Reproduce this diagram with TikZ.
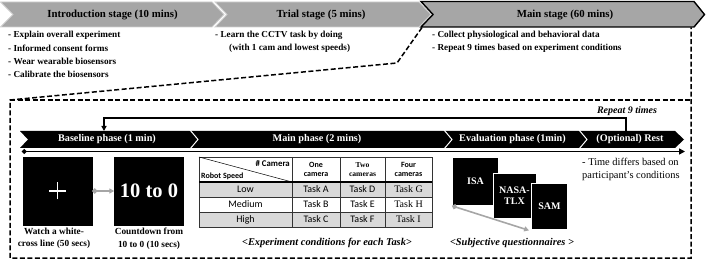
\documentclass[tikz,border=0pt]{standalone}
\usepackage{fontspec}
\setmainfont{Liberation Serif}
\newfontfamily\calfont{Carlito}
\usetikzlibrary{arrows.meta}
\definecolor{chevgray}{HTML}{A6A6A6}
\definecolor{chevedge}{HTML}{D0D0D0}
\definecolor{arrgray}{HTML}{A6A6A6}
\definecolor{rowgray}{HTML}{D9D9D9}
\tikzset{
  topchev/.style={fill=chevgray, draw=chevedge, line width=0.8pt},
  mainchev/.style={fill=chevgray, draw=black, line width=1.4pt},
  toptxt/.style={font=\bfseries\fontsize{10.8}{12}\selectfont, inner sep=0pt},
  bullettxt/.style={font=\bfseries\fontsize{9.2}{10}\selectfont, anchor=west, inner sep=0pt},
  phasechev/.style={fill=black, draw=none},
  sepline/.style={draw=white, line width=1pt},
  phasetxt/.style={font=\bfseries\fontsize{10.2}{11}\selectfont, text=white, inner sep=0pt},
  callout/.style={draw=black, line width=1.5pt, dash pattern=on 5pt off 2.5pt},
  loopline/.style={draw=black, line width=1.3pt},
  timeline/.style={draw=black, line width=1.6pt},
  greyarrow/.style={draw=arrgray, line width=1.6pt, {Circle[length=5pt,fill=arrgray]}-{Triangle[length=5pt,width=5pt]}},
  blackbox/.style={fill=black, draw=black, inner sep=0pt, minimum width=69pt, minimum height=68pt},
  qbox/.style={fill=black, draw=white, line width=0.8pt, inner sep=0pt, text=white, font=\bfseries\fontsize{10}{11}\selectfont, align=center},
  labeltxt/.style={font=\bfseries\fontsize{9.3}{12.5}\selectfont, align=center, inner sep=0pt},
  captxt/.style={font=\bfseries\itshape\fontsize{10.4}{11}\selectfont, inner sep=0pt},
  cellbox/.style={draw=black!80, line width=0.6pt},
  hdrtxt/.style={font=\calfont\bfseries\fontsize{8}{9.5}\selectfont, align=center, inner sep=0pt},
  celltxt/.style={font=\calfont\fontsize{10}{11}\selectfont, inner sep=0pt},
  serifcell/.style={font=\fontsize{10}{11}\selectfont, inner sep=0pt},
}
\begin{document}
\begin{tikzpicture}[x=1pt,y=-1pt]
\useasboundingbox (0,0) rectangle (706,264);
% ---------- top stage chevrons ----------
\path[topchev] (0.5,2) -- (212,2) -- (224,14.5) -- (212,27) -- (0.5,27) -- (13,14.5) -- cycle;
\path[topchev] (215,2) -- (419,2) -- (431,14.5) -- (419,27) -- (215,27) -- (227,14.5) -- cycle;
\path[mainchev] (421,1.5) -- (694,1.5) -- (704.5,14.5) -- (694,27) -- (421,27) -- (433,14.5) -- cycle;
\node[toptxt] (intro) at (112.5,14.5) {Introduction stage (10 mins)};
\node[toptxt] (trial) at (321,14.5) {Trial stage (5 mins)};
\node[toptxt] (mainst) at (565,14.5) {Main stage (60 mins)};
% ---------- bullets ----------
\node[bullettxt] (b1) at (8,35) {- Explain overall experiment};
\node[bullettxt] (b2) at (8,48) {- Informed consent forms};
\node[bullettxt] (b3) at (8,61) {- Wear wearable biosensors};
\node[bullettxt] (b4) at (8,74) {- Calibrate the biosensors};
\node[bullettxt] (t1) at (215,35) {- Learn the CCTV task by doing};
\node[bullettxt] (t2) at (229,48) {(with 1 cam and lowest speeds)};
\node[bullettxt] (m1) at (432,35) {- Collect physiological and behavioral data};
\node[bullettxt] (m2) at (432,48) {- Repeat 9 times based on experiment conditions};
% ---------- dashed callout ----------
\coordinate (cA) at (422,27.5);
\coordinate (cB) at (397,63);
\coordinate (cC) at (10,100);
\coordinate (cD) at (10,258);
\coordinate (cE) at (691,258);
\coordinate (cF) at (691,100);
\coordinate (cG) at (691,27.5);
\draw[callout] (cA) -- (cB) -- (cC) -- (cD) -- (cE) -- (cG);
\draw[callout] (cC) -- (cF);
% ---------- phase bar ----------
\path[phasechev] (20,131) -- (675,131) -- (684,139.5) -- (675,148) -- (20,148) -- (28,139.5) -- cycle;
\draw[sepline] (190,130) -- (198,139.5) -- (190,149);
\draw[sepline] (444,130) -- (452,139.5) -- (444,149);
\draw[sepline] (579,130) -- (587,139.5) -- (579,149);
\node[phasetxt] (base) at (107,139.5) {Baseline phase (1 min)};
\node[phasetxt] (mainph) at (317,139.5) {Main phase (2 mins)};
\node[phasetxt] (evalph) at (512.5,139.5) {Evaluation phase (1min)};
\node[phasetxt] (rest) at (630,139.5) {(Optional) Rest};
% ---------- repeat loop ----------
\node[captxt, font=\bfseries\itshape\fontsize{10}{11}\selectfont] (rep) at (627,111) {Repeat 9 times};
\coordinate (l1) at (626,131);
\coordinate (l2) at (626,118);
\coordinate (l3) at (104,118);
\coordinate (l4) at (104,131);
\draw[loopline, -{Triangle[length=5pt,width=5pt]}] (l1) -- (l2) -- (l3) -- (l4);
% ---------- timeline ----------
\coordinate (ts) at (22,151.5);
\coordinate (te) at (685,151.5);
\draw[timeline, {Circle[length=4.5pt]}-{Triangle[length=6pt,width=6pt]}] (ts) -- (te);
% ---------- baseline boxes ----------
\node[blackbox] (crossbox) at (57.5,191) {};
\draw[white, line width=1.5pt] ([xshift=-8.5pt]crossbox.center) -- ([xshift=8.5pt]crossbox.center);
\draw[white, line width=1.5pt] ([yshift=-8.5pt]crossbox.center) -- ([yshift=8.5pt]crossbox.center);
\node[blackbox, text=white, font=\bfseries\fontsize{20.5}{22}\selectfont] (countbox) at (149,191) {10 to 0};
\draw[greyarrow] (crossbox.east) -- (countbox.west);
\node[labeltxt] (lab1) at (54,238.5) {Watch a white-\\cross line (50 secs)};
\node[labeltxt] (lab2) at (149,238.5) {Countdown from\\10 to 0 (10 secs)};
% ---------- table ----------
\fill[rowgray] (199,182) rectangle (432,197);
\fill[rowgray] (199,212) rectangle (432,227);
\draw[cellbox] (199,157) rectangle (432,227);
\foreach \xx in {292,340,385} \draw[cellbox] (\xx,157) -- (\xx,227);
\foreach \yy in {197,212} \draw[cellbox] (199,\yy) -- (432,\yy);
\draw[black, line width=1.1pt] (199,182) -- (432,182);
\draw[black, line width=0.5pt] (199,157) -- (292,182);
\node[hdrtxt, font=\calfont\bfseries\fontsize{8.8}{9.5}\selectfont, anchor=east] (hcam) at (290,164) {\# Camera};
\node[hdrtxt, anchor=west] (hspd) at (201,176.5) {Robot Speed};
\node[hdrtxt] (h1) at (316,169.5) {One\\camera};
\node[hdrtxt, font=\bfseries\fontsize{7.6}{9.5}\selectfont] (h2) at (362.5,169.5) {Two\\cameras};
\node[hdrtxt] (h3) at (408.5,169.5) {Four\\cameras};
\node[celltxt] (r1) at (245.5,189.5) {Low};
\node[celltxt] (r2) at (245.5,204.5) {Medium};
\node[celltxt] (r3) at (245.5,219.5) {High};
\node[celltxt] (ta) at (316,189.5) {Task A};
\node[celltxt] (tb) at (316,204.5) {Task B};
\node[celltxt] (tc) at (316,219.5) {Task C};
\node[celltxt] (td) at (362.5,189.5) {Task D};
\node[celltxt] (tE) at (362.5,204.5) {Task E};
\node[celltxt] (tf) at (362.5,219.5) {Task F};
\node[serifcell] (tg) at (408.5,189.5) {Task G};
\node[serifcell] (th) at (408.5,204.5) {Task H};
\node[serifcell] (ti) at (408.5,219.5) {Task I};
\node[captxt] (cap1) at (327,242.5) {<Experiment conditions for each Task>};
% ---------- questionnaires ----------
\node[qbox, minimum width=46pt, minimum height=48pt] (isa) at (475.5,181.5) {ISA};
\node[qbox, minimum width=43pt, minimum height=45pt] (nasa) at (514.5,195.5) {NASA-\\TLX};
\node[qbox, minimum width=36pt, minimum height=46pt] (sam) at (549.5,206) {SAM};
\draw[greyarrow] (isa.south west) -- ([xshift=-2pt,yshift=-1pt]sam.south west);
\node[captxt] (cap2) at (512,242.5) {<Subjective questionnaires >};
% ---------- rest note ----------
\node[font=\fontsize{10.4}{13}\selectfont, align=left, anchor=north west, inner sep=0pt] (restnote) at (582,158) {- Time differs based on\\participant's conditions};
\end{tikzpicture}
\end{document}
